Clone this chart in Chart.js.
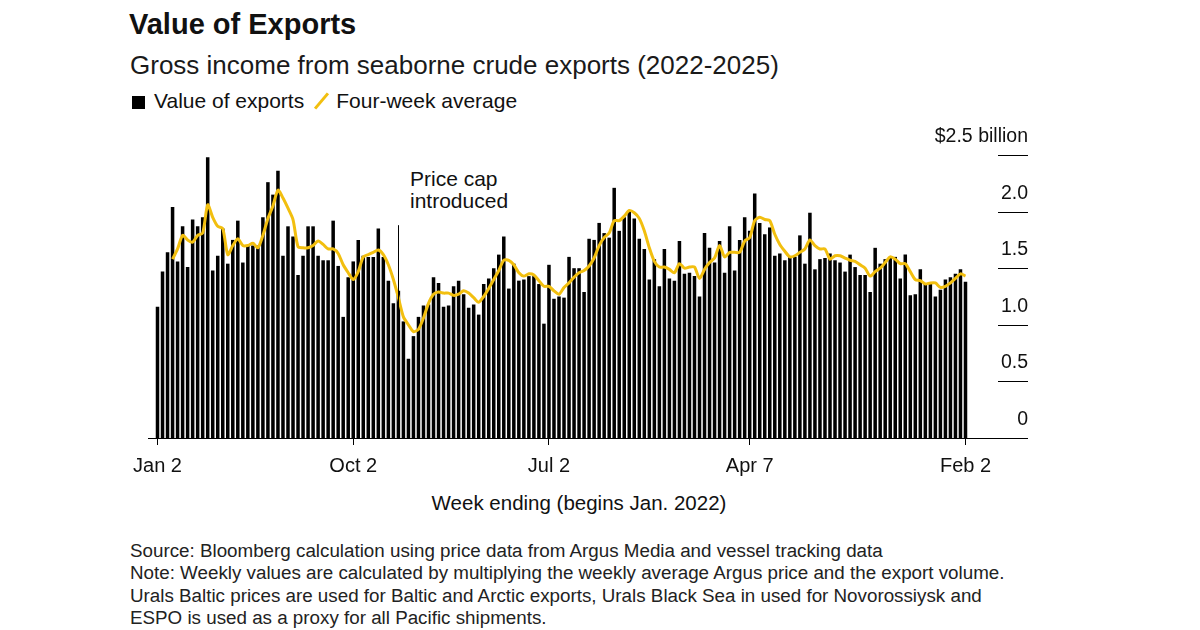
<!DOCTYPE html>
<html lang="en">
<head>
<meta charset="UTF-8">
<title>Value of Exports</title>
<script src="https://cdn.jsdelivr.net/npm/chart.js"></script>
<style>
    body {
        margin: 0;
        width: 1200px;
        height: 630px;
        position: relative;
        overflow: hidden;
        background: #fff;
        font-family: "Liberation Sans", Arial, Helvetica, sans-serif;
        color: #111;
    }
    .txt { position: absolute; white-space: nowrap; }
    #title { left: 129px; top: 8px; font-size: 29px; font-weight: bold; line-height: 32px; }
    #subtitle { left: 130px; top: 50px; font-size: 26px; line-height: 30px; color: #1a1a1a; }
    #legend { left: 132px; top: 88px; font-size: 21px; line-height: 26px; }
    .sq { display: inline-block; width: 13px; height: 13px; background: #000; margin-right: 9px; vertical-align: -1px; }
    .slash { display: inline-block; width: 3px; height: 20px; background: #f2bf0f; transform: rotate(40deg); margin: 0 13px 0 16px; vertical-align: -3px; }
    #capnote { left: 410px; top: 168px; font-size: 21px; line-height: 22px; }
    #xtitle { left: 579px; top: 491px; font-size: 20.5px; line-height: 24px; transform: translateX(-50%); }
    #notes { left: 130px; top: 540px; font-size: 18.8px; line-height: 22.4px; color: #222; }
    canvas { position: absolute; left: 0; top: 0; }
</style>
</head>
<body>
<div id="title" class="txt">Value of Exports</div>
<div id="subtitle" class="txt">Gross income from seaborne crude exports (2022-2025)</div>
<div id="legend" class="txt"><span class="sq"></span>Value of exports<span class="slash"></span>Four-week average</div>
<div id="capnote" class="txt">Price cap<br>introduced</div>
<div id="xtitle" class="txt">Week ending (begins Jan. 2022)</div>
<div id="notes" class="txt">Source: Bloomberg calculation using price data from Argus Media and vessel tracking data<br>Note: Weekly values are calculated by multiplying the weekly average Argus price and the export volume.<br>Urals Baltic prices are used for Baltic and Arctic exports, Urals Black Sea in used for Novorossiysk and<br>ESPO is used as a proxy for all Pacific shipments.</div>
<canvas id="chart" width="1200" height="630"></canvas>

<script>
    // weekly value of exports, $ billion, week ending Jan 2 2022 ... Feb 2 2025
    const exportValues = [
        1.16, 1.47, 1.64, 2.04, 1.56, 1.87, 1.51, 1.93, 1.87, 1.95,
        2.48, 1.48, 1.61, 1.85, 1.54, 1.75, 1.92, 1.55, 1.70, 1.70,
        1.70, 1.95, 2.26, 2.15, 2.36, 1.61, 1.87, 1.78, 1.44, 1.61,
        1.87, 1.87, 1.61, 1.57, 1.57, 1.92, 1.52, 1.07, 1.42, 1.56,
        1.75, 1.61, 1.60, 1.60, 1.85, 1.60, 1.39, 1.19, 1.30, 1.03,
        0.70, 0.90, 1.07, 1.17, 1.18, 1.42, 1.37, 1.16, 1.17, 1.34,
        1.39, 1.27, 1.15, 1.18, 1.09, 1.36, 1.41, 1.50, 1.62, 1.78,
        1.32, 1.54, 1.39, 1.40, 1.43, 1.43, 1.36, 1.01, 1.53, 1.23,
        1.25, 1.24, 1.60, 1.50, 1.50, 1.29, 1.76, 1.75, 1.90, 1.81,
        1.77, 2.21, 1.83, 1.95, 2.01, 1.94, 1.76, 1.67, 1.40, 1.58,
        1.34, 1.67, 1.41, 1.39, 1.74, 1.45, 1.46, 1.43, 1.25, 1.81,
        1.68, 1.55, 1.74, 1.46, 1.87, 1.48, 1.75, 1.95, 1.83, 2.16,
        1.90, 1.80, 1.86, 1.61, 1.63, 1.57, 1.60, 1.60, 1.79, 1.54,
        1.99, 1.49, 1.58, 1.59, 1.63, 1.57, 1.55, 1.47, 1.62, 1.51,
        1.44, 1.44, 1.29, 1.68, 1.54, 1.58, 1.60, 1.60, 1.41, 1.62,
        1.26, 1.27, 1.49, 1.36, 1.36, 1.25, 1.31, 1.40, 1.42, 1.45,
        1.49, 1.38
    ];

    // four-week average (first three weeks have none)
    const fourWeekAvg = [
        null, null, null, 1.58, 1.67, 1.79, 1.75, 1.73, 1.79, 1.81,
        2.06, 1.95, 1.87, 1.85, 1.62, 1.70, 1.76, 1.70, 1.70, 1.72,
        1.68, 1.79, 1.94, 2.05, 2.19, 2.12, 2.03, 1.93, 1.69, 1.68,
        1.68, 1.70, 1.74, 1.71, 1.67, 1.67, 1.63, 1.53, 1.46, 1.40,
        1.47, 1.60, 1.62, 1.64, 1.66, 1.62, 1.53, 1.40, 1.24, 1.07,
        1.00, 0.94, 0.96, 1.06, 1.19, 1.27, 1.29, 1.28, 1.28, 1.26,
        1.27, 1.30, 1.28, 1.24, 1.20, 1.25, 1.32, 1.40, 1.48, 1.57,
        1.57, 1.53, 1.46, 1.43, 1.45, 1.44, 1.39, 1.34, 1.34, 1.30,
        1.27, 1.33, 1.37, 1.42, 1.46, 1.48, 1.52, 1.59, 1.70, 1.77,
        1.81, 1.92, 1.92, 1.96, 2.01, 1.99, 1.94, 1.83, 1.68, 1.56,
        1.51, 1.51, 1.49, 1.46, 1.54, 1.50, 1.51, 1.51, 1.41, 1.49,
        1.55, 1.59, 1.70, 1.60, 1.64, 1.64, 1.64, 1.74, 1.77, 1.92,
        1.95, 1.93, 1.92, 1.80, 1.71, 1.65, 1.60, 1.61, 1.64, 1.67,
        1.75, 1.70, 1.67, 1.67, 1.58, 1.61, 1.61, 1.59, 1.57, 1.56,
        1.53, 1.50, 1.43, 1.47, 1.50, 1.55, 1.60, 1.58, 1.54, 1.54,
        1.47, 1.40, 1.39, 1.36, 1.37, 1.37, 1.33, 1.34, 1.37, 1.41,
        1.45, 1.43
    ];

    const xTickWeeks = [0, 39, 78, 118, 161];
    const xTickLabels = ['Jan 2', 'Oct 2', 'Jul 2', 'Apr 7', 'Feb 2'];
    const yTickValues = [0, 0.5, 1.0, 1.5, 2.0, 2.5];
    const yTickLabels = ['0', '0.5', '1.0', '1.5', '2.0', '$2.5 billion'];
    const priceCapWeek = 48;

    const FONT = '"Liberation Sans", Arial, Helvetica, sans-serif';

    // right-hand value axis, baseline and the price-cap marker
    const axisPlugin = {
        id: 'axisPlugin',
        afterDatasetsDraw(chart) {
            const { ctx, chartArea, scales: { x, y } } = chart;
            ctx.save();
            ctx.strokeStyle = '#000';
            ctx.lineWidth = 1;

            // price cap marker
            const px = Math.round(x.getPixelForValue(priceCapWeek)) + 0.5;
            ctx.beginPath();
            ctx.moveTo(px, y.getPixelForValue(1.88));
            ctx.lineTo(px, y.getPixelForValue(0));
            ctx.stroke();

            const y0 = Math.round(y.getPixelForValue(0)) + 0.5;
            ctx.beginPath();
            ctx.moveTo(chartArea.left - 7, y0);
            ctx.lineTo(chartArea.right + 60, y0);
            ctx.stroke();

            ctx.font = '19.5px ' + FONT;
            ctx.fillStyle = '#111';
            ctx.textAlign = 'right';
            ctx.textBaseline = 'middle';
            yTickValues.forEach((v, k) => {
                const py = Math.round(y.getPixelForValue(v)) + 0.5;
                if (v > 0) {
                    ctx.beginPath();
                    ctx.moveTo(chartArea.right + 30, py);
                    ctx.lineTo(chartArea.right + 60, py);
                    ctx.stroke();
                }
                ctx.fillText(yTickLabels[k], chartArea.right + 60, py - 19);
            });
            ctx.restore();
        }
    };

    const ctx = document.getElementById('chart').getContext('2d');
    new Chart(ctx, {
        data: {
            datasets: [{
                type: 'line',
                label: 'Four-week average',
                data: fourWeekAvg.map((v, i) => ({ x: i, y: v })),
                borderColor: '#f2bf0f',
                borderWidth: 3,
                pointRadius: 0,
                tension: 0.25,
                spanGaps: false,
                order: 0
            }, {
                type: 'bar',
                label: 'Value of exports',
                data: exportValues.map((v, i) => ({ x: i, y: v })),
                backgroundColor: '#000',
                borderWidth: 0,
                barPercentage: 0.7,
                categoryPercentage: 1.0,
                order: 1
            }]
        },
        options: {
            responsive: false,
            animation: false,
            devicePixelRatio: 1,
            layout: { padding: { left: 155, right: 232, top: 155, bottom: 152 } },
            plugins: { legend: { display: false }, tooltip: { enabled: false } },
            scales: {
                x: {
                    type: 'linear',
                    min: -0.5,
                    max: 161.5,
                    offset: false,
                    border: { display: false },
                    grid: { offset: false, drawOnChartArea: false, drawTicks: true, tickLength: 7, color: '#000' },
                    ticks: {
                        autoSkip: false,
                        maxRotation: 0,
                        padding: 9,
                        color: '#111',
                        font: { family: FONT, size: 20 },
                        callback: (value) => xTickLabels[xTickWeeks.indexOf(value)]
                    },
                    afterBuildTicks: (scale) => {
                        scale.ticks = xTickWeeks.map(v => ({ value: v }));
                    },
                    afterFit: (scale) => { scale.height = 40; }
                },
                y: {
                    display: false,
                    min: 0,
                    max: 2.5
                }
            }
        },
        plugins: [axisPlugin]
    });
</script>
</body>
</html>
